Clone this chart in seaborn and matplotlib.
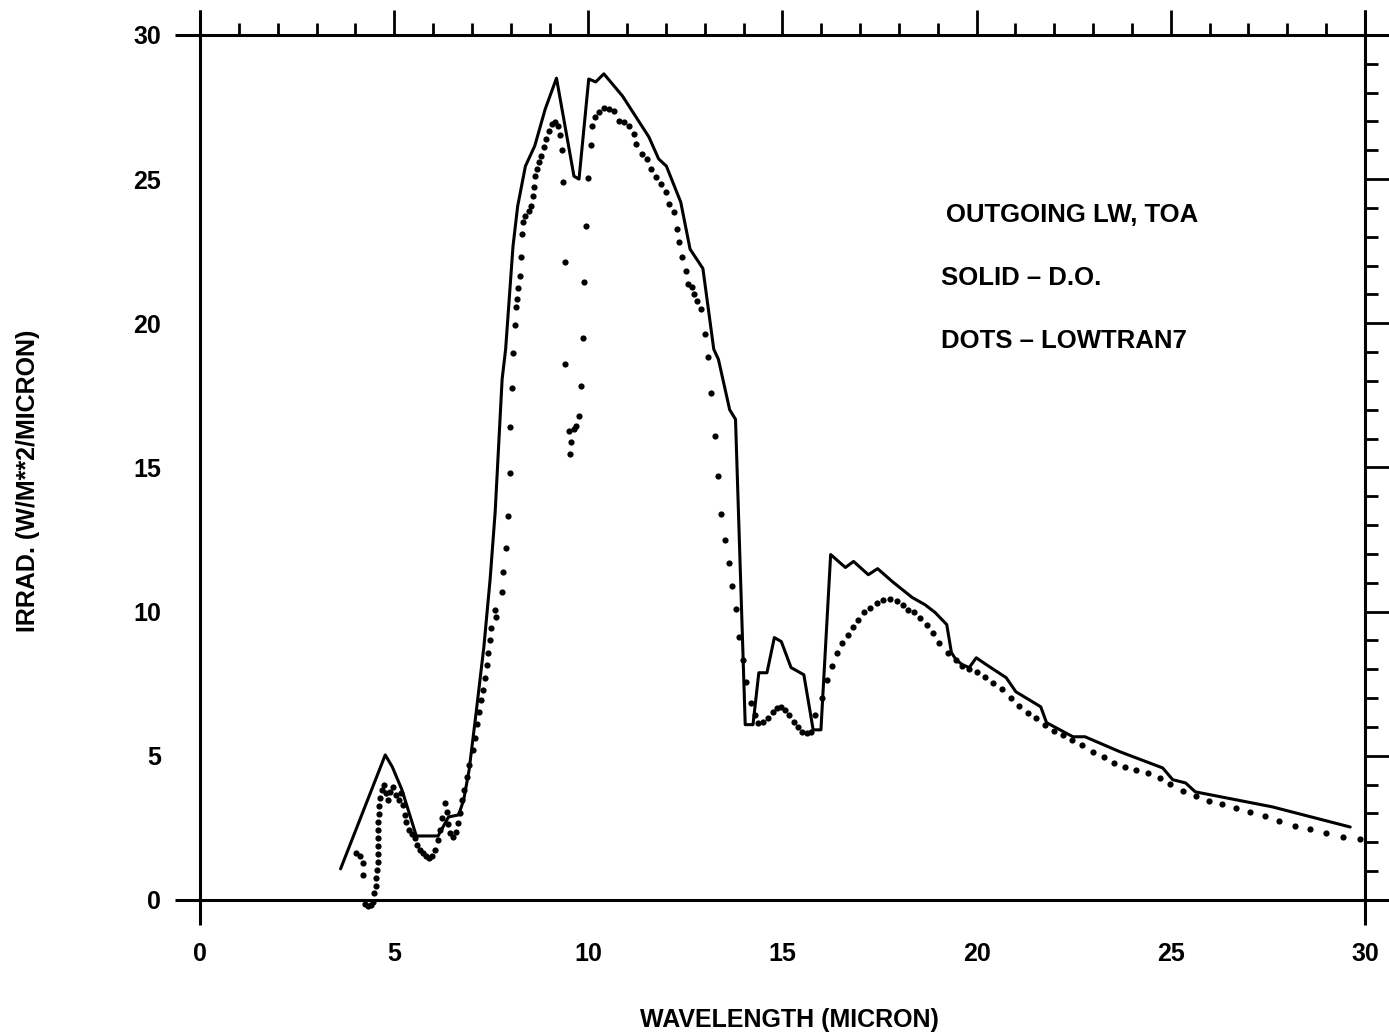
import numpy as np
import pandas as pd
import matplotlib
matplotlib.use("Agg")
import matplotlib.pyplot as plt
from matplotlib.ticker import MultipleLocator
import seaborn as sns

# ---------------- data ----------------
# Solid curve: discrete ordinate (D.O.) result
solid_wl = [3.62, 4.77, 4.95, 5.20, 5.57, 6.13, 6.40, 6.66, 6.79, 6.93,
            7.11, 7.31, 7.47, 7.60, 7.78, 7.87, 8.06, 8.18, 8.38, 8.62,
            8.89, 9.18, 9.63, 9.76, 10.01, 10.19, 10.40, 10.88, 11.56, 11.81,
            12.01, 12.38, 12.62, 12.95, 13.23, 13.35, 13.64, 13.79, 14.04, 14.24,
            14.39, 14.60, 14.79, 14.97, 15.22, 15.55, 15.79, 15.99, 16.24, 16.62,
            16.83, 17.21, 17.45, 17.83, 18.34, 18.67, 18.93, 19.23, 19.35, 19.47,
            19.63, 19.81, 19.99, 20.25, 20.76, 21.01, 21.65, 21.80, 22.48, 22.79,
            23.69, 24.79, 25.05, 25.38, 25.63, 27.61, 29.62]
solid_irr = [1.08, 5.03, 4.62, 3.82, 2.22, 2.22, 2.88, 2.95, 3.47, 4.51,
             6.49, 8.78, 11.11, 13.44, 18.06, 19.10, 22.67, 24.06, 25.45, 26.15,
             27.43, 28.50, 25.10, 25.00, 28.47, 28.37, 28.65, 27.88, 26.46, 25.70,
             25.45, 24.20, 22.57, 21.90, 19.10, 18.75, 17.00, 16.67, 6.08, 6.08,
             7.88, 7.88, 9.10, 8.96, 8.06, 7.81, 5.90, 5.90, 11.98, 11.53,
             11.74, 11.28, 11.49, 11.04, 10.49, 10.24, 9.97, 9.55, 8.58, 8.33,
             8.16, 8.06, 8.40, 8.16, 7.71, 7.22, 6.70, 6.15, 5.66, 5.66,
             5.14, 4.58, 4.17, 4.06, 3.75, 3.23, 2.53]

# Dots: LOWTRAN7 result
dots_wl = [4.01, 4.12, 4.19, 4.21, 4.25, 4.33, 4.41, 4.46, 4.49, 4.52,
           4.54, 4.57, 4.58, 4.58, 4.58, 4.59, 4.59, 4.59, 4.60, 4.60,
           4.63, 4.68, 4.73, 4.78, 4.83, 4.89, 4.97, 5.04, 5.12, 5.17,
           5.22, 5.27, 5.31, 5.39, 5.46, 5.54, 5.59, 5.66, 5.74, 5.82,
           5.89, 5.97, 6.05, 6.13, 6.19, 6.24, 6.30, 6.35, 6.39, 6.44,
           6.52, 6.60, 6.65, 6.69, 6.74, 6.80, 6.88, 6.93, 7.02, 7.07,
           7.13, 7.19, 7.24, 7.30, 7.35, 7.38, 7.42, 7.47, 7.50, 7.59,
           7.63, 7.77, 7.81, 7.89, 7.93, 7.97, 7.99, 8.03, 8.05, 8.11,
           8.14, 8.17, 8.20, 8.23, 8.26, 8.30, 8.33, 8.38, 8.46, 8.52,
           8.57, 8.60, 8.63, 8.68, 8.74, 8.79, 8.85, 8.90, 8.98, 9.06,
           9.14, 9.22, 9.27, 9.31, 9.35, 9.40, 9.41, 9.51, 9.53, 9.56,
           9.64, 9.69, 9.77, 9.81, 9.86, 9.90, 9.95, 10.00, 10.06, 10.09,
           10.17, 10.28, 10.41, 10.54, 10.66, 10.79, 10.92, 11.05, 11.17, 11.24,
           11.37, 11.50, 11.62, 11.75, 11.87, 12.00, 12.07, 12.20, 12.29, 12.34,
           12.41, 12.51, 12.56, 12.66, 12.73, 12.81, 12.91, 13.00, 13.07, 13.16,
           13.25, 13.33, 13.42, 13.51, 13.61, 13.70, 13.80, 13.89, 13.98, 14.05,
           14.20, 14.30, 14.37, 14.50, 14.63, 14.76, 14.87, 14.95, 15.07, 15.18,
           15.30, 15.40, 15.50, 15.63, 15.73, 15.84, 16.01, 16.14, 16.28, 16.41,
           16.54, 16.68, 16.81, 16.94, 17.10, 17.25, 17.44, 17.59, 17.77, 17.95,
           18.10, 18.23, 18.38, 18.54, 18.71, 18.87, 19.04, 19.25, 19.47, 19.63,
           19.81, 20.01, 20.21, 20.42, 20.65, 20.88, 21.08, 21.31, 21.54, 21.77,
           22.00, 22.23, 22.46, 22.71, 22.99, 23.28, 23.53, 23.81, 24.10, 24.40,
           24.71, 24.99, 25.32, 25.66, 25.99, 26.33, 26.69, 27.04, 27.43, 27.79,
           28.20, 28.59, 28.99, 29.43, 29.87]
dots_irr = [1.63, 1.53, 1.28, 0.87, -0.14, -0.21, -0.17, -0.07, 0.24, 0.49,
            0.76, 1.04, 1.32, 1.60, 1.88, 2.15, 2.43, 2.71, 2.99, 3.26,
            3.54, 3.82, 3.99, 3.72, 3.47, 3.75, 3.92, 3.65, 3.47, 3.72,
            3.30, 2.95, 2.71, 2.43, 2.29, 2.15, 1.91, 1.74, 1.63, 1.53,
            1.46, 1.53, 1.74, 2.08, 2.43, 2.85, 3.37, 3.06, 2.64, 2.33,
            2.19, 2.36, 2.67, 3.02, 3.47, 3.82, 4.27, 4.69, 5.21, 5.63,
            6.11, 6.53, 6.94, 7.29, 7.71, 8.16, 8.58, 9.03, 9.44, 10.07,
            9.83, 10.69, 11.39, 12.22, 13.30, 14.79, 16.39, 17.74, 18.96, 19.93,
            20.56, 20.83, 21.22, 21.63, 22.29, 23.09, 23.51, 23.72, 23.89, 24.06,
            24.41, 24.72, 25.10, 25.35, 25.59, 25.80, 26.11, 26.39, 26.67, 26.91,
            26.98, 26.84, 26.53, 26.01, 24.90, 22.12, 18.58, 16.25, 15.45, 15.87,
            16.32, 16.42, 16.77, 17.81, 19.48, 21.42, 23.37, 25.03, 26.18, 26.84,
            27.15, 27.33, 27.47, 27.43, 27.36, 27.01, 26.98, 26.84, 26.56, 26.22,
            25.87, 25.69, 25.35, 25.07, 24.83, 24.55, 24.13, 23.85, 23.26, 22.81,
            22.29, 21.81, 21.35, 21.25, 21.01, 20.76, 20.49, 19.62, 18.82, 17.57,
            16.08, 14.69, 13.37, 12.47, 11.67, 10.90, 10.10, 9.13, 8.33, 7.57,
            6.84, 6.42, 6.15, 6.18, 6.32, 6.53, 6.67, 6.70, 6.60, 6.42,
            6.18, 6.01, 5.83, 5.80, 5.83, 6.42, 7.01, 7.64, 8.13, 8.58,
            8.92, 9.20, 9.48, 9.72, 9.97, 10.14, 10.31, 10.42, 10.45, 10.38,
            10.24, 10.07, 9.97, 9.79, 9.55, 9.27, 8.92, 8.58, 8.33, 8.13,
            8.02, 7.92, 7.74, 7.53, 7.33, 7.01, 6.74, 6.49, 6.32, 6.08,
            5.87, 5.73, 5.56, 5.38, 5.14, 4.97, 4.76, 4.62, 4.51, 4.41,
            4.24, 4.03, 3.78, 3.61, 3.44, 3.33, 3.19, 3.06, 2.92, 2.74,
            2.57, 2.47, 2.33, 2.19, 2.12]

x_ticks = [0, 5, 10, 15, 20, 25, 30]
y_ticks = [0, 5, 10, 15, 20, 25, 30]
x_label = "WAVELENGTH (MICRON)"
y_label = "IRRAD. (W/M**2/MICRON)"
notes = ["OUTGOING LW, TOA", "SOLID \u2013 D.O.", "DOTS \u2013 LOWTRAN7"]

# ---------------- styling ----------------
sns.set_theme(style="white")
plt.rcParams["font.family"] = ["Liberation Sans", "DejaVu Sans"]
plt.rcParams["font.weight"] = "bold"
plt.rcParams["axes.labelweight"] = "bold"
plt.rcParams["text.color"] = "black"
plt.rcParams["axes.labelcolor"] = "black"
plt.rcParams["xtick.color"] = "black"
plt.rcParams["ytick.color"] = "black"

solid_df = pd.DataFrame({"wl": solid_wl, "irr": solid_irr})
dots_df = pd.DataFrame({"wl": dots_wl, "irr": dots_irr})

fig = plt.figure(figsize=(13.89, 10.36), dpi=100)
ax = fig.add_axes([0.1440, 0.1313, 0.8387, 0.8350])

sns.lineplot(data=solid_df, x="wl", y="irr", ax=ax, color="black",
             linewidth=2.2, sort=False, estimator=None)
sns.scatterplot(data=dots_df, x="wl", y="irr", ax=ax, color="black",
                s=20, linewidth=0, clip_on=False, zorder=3)

ax.set_xlim(0, 30)
ax.set_ylim(0, 30)
ax.set_xticks(x_ticks)
ax.set_yticks(y_ticks)
ax.xaxis.set_minor_locator(MultipleLocator(1))
ax.yaxis.set_minor_locator(MultipleLocator(1))

ax.tick_params(which="major", direction="out", length=18, width=2,
               top=True, right=True, labeltop=False, labelright=False,
               labelsize=18, colors="black")
ax.tick_params(which="minor", direction="out", length=9, width=2,
               top=True, right=True, colors="black")
ax.tick_params(axis="x", which="major", pad=12)
ax.tick_params(axis="y", which="major", pad=10)
for lab in ax.get_xticklabels() + ax.get_yticklabels():
    lab.set_fontweight("bold")
    lab.set_color("black")

# frame: lines that cross at the corners
for s in ax.spines.values():
    s.set_visible(False)
ox, oy = 25 / 1165, 25 / 865
frame_kw = dict(transform=ax.transAxes, color="black", lw=2.2,
                clip_on=False, solid_capstyle="butt", zorder=4)
ax.plot([-ox, 1 + ox], [0, 0], **frame_kw)
ax.plot([-ox, 1 + ox], [1, 1], **frame_kw)
ax.plot([0, 0], [-oy, 1 + oy], **frame_kw)
ax.plot([1, 1], [-oy, 1 + oy], **frame_kw)

ax.set_xlabel(x_label, fontsize=18, fontweight="bold", color="black")
ax.set_ylabel(y_label, fontsize=18, fontweight="bold", color="black")
ax.xaxis.set_label_coords(0.506, -0.125)
ax.yaxis.set_label_coords(-0.137, 0.484)

ax.text(19.2, 23.75, notes[0], fontsize=18.5, fontweight="bold",
        color="black", ha="left", va="center")
ax.text(19.07, 21.56, notes[1], fontsize=18.5, fontweight="bold",
        color="black", ha="left", va="center")
ax.text(19.07, 19.4, notes[2], fontsize=18.5, fontweight="bold",
        color="black", ha="left", va="center")

fig.savefig("out.png", dpi=100, facecolor="white")
